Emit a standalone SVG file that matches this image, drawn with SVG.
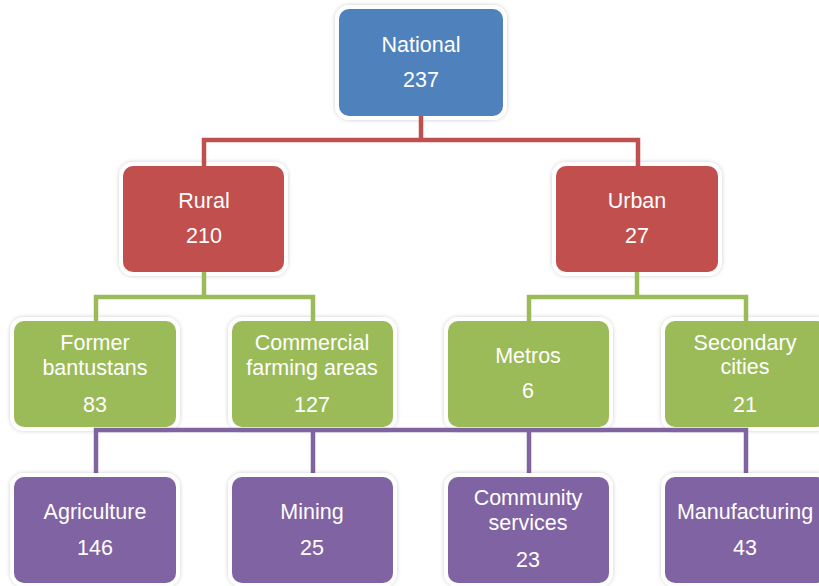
<svg xmlns="http://www.w3.org/2000/svg" width="819" height="586" viewBox="0 0 819 586">
<style>
.box{stroke:#ffffff;stroke-width:8;paint-order:stroke;filter:url(#sh)}
.blue{fill:#4F81BD}.red{fill:#C0504D}.green{fill:#9BBB59}.purple{fill:#8064A2}
text{font-family:"Liberation Sans",Arial,sans-serif;font-size:21.5px;fill:#ffffff;text-anchor:middle}
.c{fill:none;stroke-width:4.5;stroke-linecap:butt;stroke-linejoin:miter}
</style>
<defs>
<filter id="sh" x="-10%" y="-10%" width="120%" height="120%">
<feGaussianBlur in="SourceAlpha" stdDeviation="2"/>
<feComponentTransfer><feFuncA type="linear" slope="0.2"/></feComponentTransfer>
<feMerge><feMergeNode/><feMergeNode in="SourceGraphic"/></feMerge>
</filter>
</defs>
<rect width="819" height="586" fill="#ffffff"/>
<g id="national"><rect class="box blue" x="339" y="9" width="164" height="107" rx="10"/><text x="421" y="52">National</text><text x="421" y="87">237</text></g>
<g id="rural"><rect class="box red" x="123" y="166" width="161" height="106" rx="10"/><text x="204" y="208">Rural</text><text x="204" y="243">210</text></g>
<g id="urban"><rect class="box red" x="556" y="166" width="162" height="106" rx="10"/><text x="637" y="208">Urban</text><text x="637" y="243">27</text></g>
<g id="former"><rect class="box green" x="14" y="321" width="162" height="106" rx="10"/><text x="95" y="350">Former</text><text x="95" y="375">bantustans</text><text x="95" y="412">83</text></g>
<g id="commercial"><rect class="box green" x="232" y="321" width="161" height="106" rx="10"/><text x="312" y="350">Commercial</text><text x="312" y="375">farming areas</text><text x="312" y="412">127</text></g>
<g id="metros"><rect class="box green" x="448" y="321" width="161" height="106" rx="10"/><text x="528" y="363">Metros</text><text x="528" y="398">6</text></g>
<g id="secondary"><rect class="box green" x="665" y="321" width="162" height="106" rx="10"/><text x="745" y="350">Secondary</text><text x="745" y="374">cities</text><text x="745" y="412">21</text></g>
<g id="connectors">
<path class="c" stroke="#C0504D" d="M421 116V140M204 166V140H638V166"/>
<path class="c" stroke="#9BBB59" d="M204 272V297M96 321V297H313V321M637 272V297M529 321V297H746V321"/>
<path class="c" stroke="#8064A2" d="M96 477V430H746V477M313 430V477M529 430V477"/>
</g>
<g id="agriculture"><rect class="box purple" x="14" y="477" width="162" height="106" rx="10"/><text x="95" y="519">Agriculture</text><text x="95" y="555">146</text></g>
<g id="mining"><rect class="box purple" x="232" y="477" width="161" height="106" rx="10"/><text x="312" y="519">Mining</text><text x="312" y="555">25</text></g>
<g id="community"><rect class="box purple" x="448" y="477" width="161" height="106" rx="10"/><text x="528" y="505">Community</text><text x="528" y="530">services</text><text x="528" y="567">23</text></g>
<g id="manufacturing"><rect class="box purple" x="665" y="477" width="162" height="106" rx="10"/><text x="745" y="519">Manufacturing</text><text x="745" y="555">43</text></g>
</svg>
